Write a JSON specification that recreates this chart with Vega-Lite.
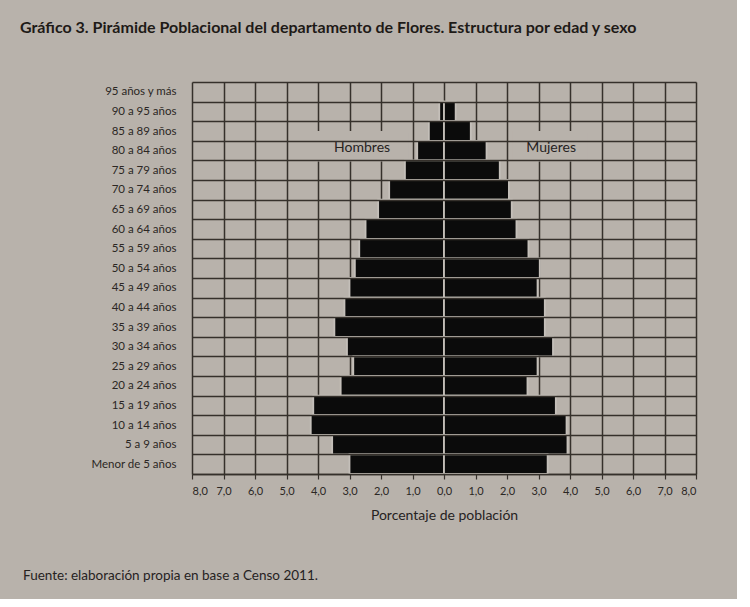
{
  "$schema": "https://vega.github.io/schema/vega-lite/v6.json",
  "background": "#b8b2ab",
  "padding": {"left": 20, "top": 20, "right": 40, "bottom": 16},
  "autosize": {"type": "pad"},
  "title": {
    "text": "Fuente: elaboración propia en base a Censo 2011.",
    "orient": "bottom",
    "anchor": "start",
    "frame": "bounds",
    "offset": 47,
    "dx": 3,
    "fontSize": 13.5,
    "fontWeight": "normal",
    "font": "Lato",
    "color": "#26221f"
  },
  "datasets": {
    "piramide": [
      {"edad": "95 años y más", "sexo": "Hombres", "pct": 0},
      {"edad": "95 años y más", "sexo": "Mujeres", "pct": 0},
      {"edad": "90 a 95 años", "sexo": "Hombres", "pct": 0.15},
      {"edad": "90 a 95 años", "sexo": "Mujeres", "pct": 0.37},
      {"edad": "85 a 89 años", "sexo": "Hombres", "pct": 0.48},
      {"edad": "85 a 89 años", "sexo": "Mujeres", "pct": 0.85},
      {"edad": "80 a 84 años", "sexo": "Hombres", "pct": 0.85},
      {"edad": "80 a 84 años", "sexo": "Mujeres", "pct": 1.35},
      {"edad": "75 a 79 años", "sexo": "Hombres", "pct": 1.24},
      {"edad": "75 a 79 años", "sexo": "Mujeres", "pct": 1.77},
      {"edad": "70 a 74 años", "sexo": "Hombres", "pct": 1.74},
      {"edad": "70 a 74 años", "sexo": "Mujeres", "pct": 2.06},
      {"edad": "65 a 69 años", "sexo": "Hombres", "pct": 2.09},
      {"edad": "65 a 69 años", "sexo": "Mujeres", "pct": 2.15},
      {"edad": "60 a 64 años", "sexo": "Hombres", "pct": 2.49},
      {"edad": "60 a 64 años", "sexo": "Mujeres", "pct": 2.30},
      {"edad": "55 a 59 años", "sexo": "Hombres", "pct": 2.69},
      {"edad": "55 a 59 años", "sexo": "Mujeres", "pct": 2.68},
      {"edad": "50 a 54 años", "sexo": "Hombres", "pct": 2.83},
      {"edad": "50 a 54 años", "sexo": "Mujeres", "pct": 3.04},
      {"edad": "45 a 49 años", "sexo": "Hombres", "pct": 3.0},
      {"edad": "45 a 49 años", "sexo": "Mujeres", "pct": 2.97},
      {"edad": "40 a 44 años", "sexo": "Hombres", "pct": 3.16},
      {"edad": "40 a 44 años", "sexo": "Mujeres", "pct": 3.2},
      {"edad": "35 a 39 años", "sexo": "Hombres", "pct": 3.48},
      {"edad": "35 a 39 años", "sexo": "Mujeres", "pct": 3.2},
      {"edad": "30 a 34 años", "sexo": "Hombres", "pct": 3.08},
      {"edad": "30 a 34 años", "sexo": "Mujeres", "pct": 3.46},
      {"edad": "25 a 29 años", "sexo": "Hombres", "pct": 2.88},
      {"edad": "25 a 29 años", "sexo": "Mujeres", "pct": 2.97},
      {"edad": "20 a 24 años", "sexo": "Hombres", "pct": 3.28},
      {"edad": "20 a 24 años", "sexo": "Mujeres", "pct": 2.65},
      {"edad": "15 a 19 años", "sexo": "Hombres", "pct": 4.15},
      {"edad": "15 a 19 años", "sexo": "Mujeres", "pct": 3.55},
      {"edad": "10 a 14 años", "sexo": "Hombres", "pct": 4.23},
      {"edad": "10 a 14 años", "sexo": "Mujeres", "pct": 3.89},
      {"edad": "5 a 9 años", "sexo": "Hombres", "pct": 3.55},
      {"edad": "5 a 9 años", "sexo": "Mujeres", "pct": 3.92},
      {"edad": "Menor de 5 años", "sexo": "Hombres", "pct": 3.0},
      {"edad": "Menor de 5 años", "sexo": "Mujeres", "pct": 3.29}
    ]
  },
  "vconcat": [
    {
      "width": 504,
      "height": 392,
      "title": {
        "text": "Gráfico 3. Pirámide Poblacional del departamento de Flores. Estructura por edad y sexo",
        "anchor": "start",
        "frame": "group",
        "dx": -172,
        "offset": 40,
        "fontSize": 16,
        "fontWeight": "bold",
        "font": "Lato",
        "color": "#1e1a17"
      },
      "encoding": {
        "y": {
          "type": "nominal",
          "scale": {
            "domain": ["95 años y más", "90 a 95 años", "85 a 89 años", "80 a 84 años", "75 a 79 años", "70 a 74 años", "65 a 69 años", "60 a 64 años", "55 a 59 años", "50 a 54 años", "45 a 49 años", "40 a 44 años", "35 a 39 años", "30 a 34 años", "25 a 29 años", "20 a 24 años", "15 a 19 años", "10 a 14 años", "5 a 9 años", "Menor de 5 años"],
            "paddingInner": 0,
            "paddingOuter": 0
          },
          "axis": {
            "title": null,
            "grid": true,
            "tickBand": "extent",
            "ticks": false,
            "domain": false,
            "labelFontSize": 11.5,
            "labelPadding": 16,
            "labelColor": "#2b2724",
            "labelFont": "Lato",
            "gridColor": "#35302b",
            "gridWidth": 1.5,
            "gridOpacity": 1
          }
        },
        "x": {
          "type": "quantitative",
          "scale": {"domain": [-8, 8], "nice": false, "zero": false},
          "axis": {
            "values": [-8, -7, -6, -5, -4, -3, -2, -1, 0, 1, 2, 3, 4, 5, 6, 7, 8],
            "labelExpr": "replace(format(abs(datum.value), '.1f'), '.', ',')",
            "title": "Porcentaje de población",
            "grid": true,
            "gridColor": "#35302b",
            "gridWidth": 1.5,
            "gridOpacity": 1,
            "domainColor": "#35302b",
            "domainWidth": 1.5,
            "tickColor": "#35302b",
            "tickSize": 5,
            "tickWidth": 1.2,
            "labelFontSize": 11,
            "labelFont": "Lato",
            "labelColor": "#2b2724",
            "labelPadding": 6,
            "titleFont": "Lato",
            "titleFontSize": 14,
            "titleFontWeight": "normal",
            "titleColor": "#26221f",
            "titlePadding": 12
          }
        }
      },
      "layer": [
        {
          "data": {"values": [
            {"etiqueta": "Hombres", "desde": -4.2, "hasta": -1.1},
            {"etiqueta": "Mujeres", "desde": 2.2, "hasta": 4.6}
          ]},
          "mark": {"type": "rect", "fill": "#b8b2ab", "stroke": "#b8b2ab", "strokeWidth": 2},
          "encoding": {
            "x": {"field": "desde", "type": "quantitative"},
            "x2": {"field": "hasta"},
            "y": {"datum": "85 a 89 años", "bandPosition": 0.55, "type": "nominal"},
            "y2": {"datum": "80 a 84 años", "bandPosition": 1}
          }
        },
        {
          "data": {"name": "piramide"},
          "transform": [
            {"filter": "datum.pct > 0"},
            {"calculate": "datum.sexo == 'Hombres' ? -datum.pct : datum.pct", "as": "valor"}
          ],
          "mark": {"type": "bar", "fill": "#0b0b0b", "stroke": "#c4bfb9", "strokeWidth": 1.8, "strokeOpacity": 1},
          "encoding": {
            "y": {"field": "edad", "type": "nominal"},
            "x": {"field": "valor", "type": "quantitative"}
          }
        },
        {
          "data": {"values": [
            {"etiqueta": "Hombres", "pos": -2.6},
            {"etiqueta": "Mujeres", "pos": 3.4}
          ]},
          "mark": {"type": "text", "font": "Lato", "fontSize": 14, "color": "#26221f", "dy": -3},
          "encoding": {
            "x": {"field": "pos", "type": "quantitative"},
            "y": {"datum": "80 a 84 años", "type": "nominal"},
            "text": {"field": "etiqueta"}
          }
        }
      ]
    }
  ],
  "config": {
    "view": {"stroke": null},
    "font": "Lato"
  }
}
